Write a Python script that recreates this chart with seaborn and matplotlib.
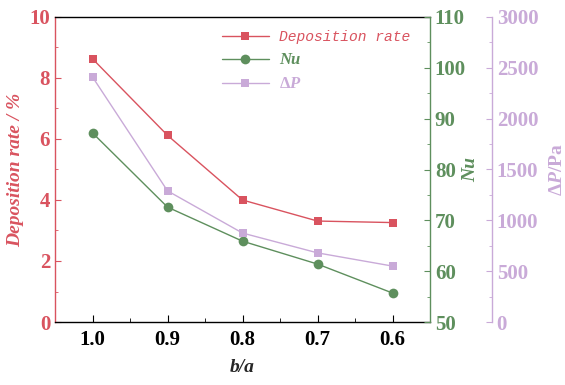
import matplotlib
matplotlib.use("Agg")
import matplotlib.pyplot as plt
import seaborn as sns
import pandas as pd
from matplotlib.ticker import MultipleLocator

ratio = [1.0, 0.9, 0.8, 0.7, 0.6]
deposition = [8.63, 6.12, 4.0, 3.31, 3.26]
nu = [87.2, 72.6, 65.9, 61.4, 55.7]
dp = [2410, 1290, 875, 680, 550]

red = "#d9535f"
green = "#5e8f5d"
purple = "#c9aad8"

sns.set_style("ticks")
plt.rcParams['font.family'] = ['Liberation Serif', 'DejaVu Serif']
plt.rcParams['mathtext.fontset'] = 'custom'
plt.rcParams['mathtext.it'] = 'Liberation Serif:italic:bold'
plt.rcParams['mathtext.rm'] = 'Liberation Serif:bold'
plt.rcParams['mathtext.bf'] = 'Liberation Serif:bold'

df = pd.DataFrame({"ratio": ratio, "dep": deposition, "nu": nu, "dp": dp})

fig = plt.figure(figsize=(5.65, 3.85), dpi=100)
ax = fig.add_axes([55/565, 1-322/385, 375/565, 305/385])
ax2 = ax.twinx()
ax3 = ax.twinx()
ax3.spines['right'].set_position(('axes', 1.165))

sns.lineplot(data=df, x="ratio", y="dep", ax=ax, color=red, marker="s", markersize=6,
             markeredgewidth=0, linewidth=1, label="Deposition rate", legend=False)
sns.lineplot(data=df, x="ratio", y="nu", ax=ax2, color=green, marker="o", markersize=7,
             markeredgewidth=0, linewidth=1, label="Nu", legend=False)
sns.lineplot(data=df, x="ratio", y="dp", ax=ax3, color=purple, marker="s", markersize=6,
             markeredgewidth=0, linewidth=1, label="ΔP", legend=False)

ax.set_xlim(1.05, 0.55)
ax.set_ylim(0, 10)
ax2.set_ylim(50, 110)
ax3.set_ylim(0, 3000)

ax.set_xticks(ratio)
ax.set_xticklabels(["1.0", "0.9", "0.8", "0.7", "0.6"])
ax.xaxis.set_minor_locator(MultipleLocator(0.05))
ax.yaxis.set_major_locator(MultipleLocator(2))
ax.yaxis.set_minor_locator(MultipleLocator(1))
ax2.yaxis.set_major_locator(MultipleLocator(10))
ax2.yaxis.set_minor_locator(MultipleLocator(5))
ax3.yaxis.set_major_locator(MultipleLocator(500))
ax3.yaxis.set_minor_locator(MultipleLocator(250))

fs = 15
lfs = 14
for a in (ax, ax2, ax3):
    for s in a.spines.values():
        s.set_linewidth(1.0)

ax.tick_params(axis='x', which='both', direction='in', colors='black', labelsize=fs, top=False, pad=6)
ax.tick_params(axis='x', which='major', length=5)
ax.tick_params(axis='x', which='minor', length=3)
ax.tick_params(axis='y', which='both', direction='in', colors=red, labelsize=fs)
ax.tick_params(axis='y', which='major', length=4)
ax.tick_params(axis='y', which='minor', length=2)
ax2.tick_params(axis='y', which='both', direction='in', colors=green, labelsize=fs)
ax2.tick_params(axis='y', which='major', length=4)
ax2.tick_params(axis='y', which='minor', length=2)
ax3.tick_params(axis='y', which='both', direction='in', colors=purple, labelsize=fs)
ax3.tick_params(axis='y', which='major', length=4)
ax3.tick_params(axis='y', which='minor', length=2)

for a in (ax, ax2, ax3):
    for lbl in a.get_xticklabels() + a.get_yticklabels():
        lbl.set_fontweight('bold')

ax.spines['left'].set_color(red)
ax.spines['top'].set_color('black')
ax.spines['bottom'].set_color('black')
ax2.spines['right'].set_color(green)
ax2.spines['left'].set_visible(False)
ax3.spines['right'].set_color(purple)
ax3.spines['left'].set_visible(False)
ax3.spines['top'].set_visible(False)
ax3.spines['bottom'].set_visible(False)
ax2.spines['top'].set_visible(False)
ax2.spines['bottom'].set_visible(False)
ax.spines['right'].set_visible(False)

ax.set_xlabel("b/a", fontsize=lfs, fontweight='bold', fontstyle='italic', labelpad=6.5)
ax.set_ylabel("Deposition rate / %", fontsize=lfs, fontweight='bold', fontstyle='italic', color=red, labelpad=4)
ax2.set_ylabel("Nu", fontsize=lfs, fontweight='bold', fontstyle='italic', color=green, labelpad=-3)
ax3.set_ylabel(r"$\mathit{\Delta P}$/Pa", fontsize=lfs, fontweight='bold', color=purple, labelpad=8)

handles = []
for a in (ax, ax2, ax3):
    h, l = a.get_legend_handles_labels()
    handles += h
leg = ax.legend(handles=handles, labels=["Deposition rate", "Nu", r"$\mathit{\Delta P}$"],
                loc='upper left', bbox_to_anchor=(0.41, 1.0), frameon=False,
                handlelength=3.2, handletextpad=0.7, labelspacing=0.55,
                prop={'family': ['Liberation Mono', 'DejaVu Sans Mono'], 'style': 'italic', 'size': 10.5})
for t, c in zip(leg.get_texts(), [red, green, purple]):
    t.set_color(c)
leg.get_texts()[1].set_fontfamily('Liberation Serif')
leg.get_texts()[1].set_fontweight('bold')
leg.get_texts()[1].set_fontsize(12)
leg.get_texts()[2].set_fontsize(12)

fig.savefig("out.png", dpi=100)
